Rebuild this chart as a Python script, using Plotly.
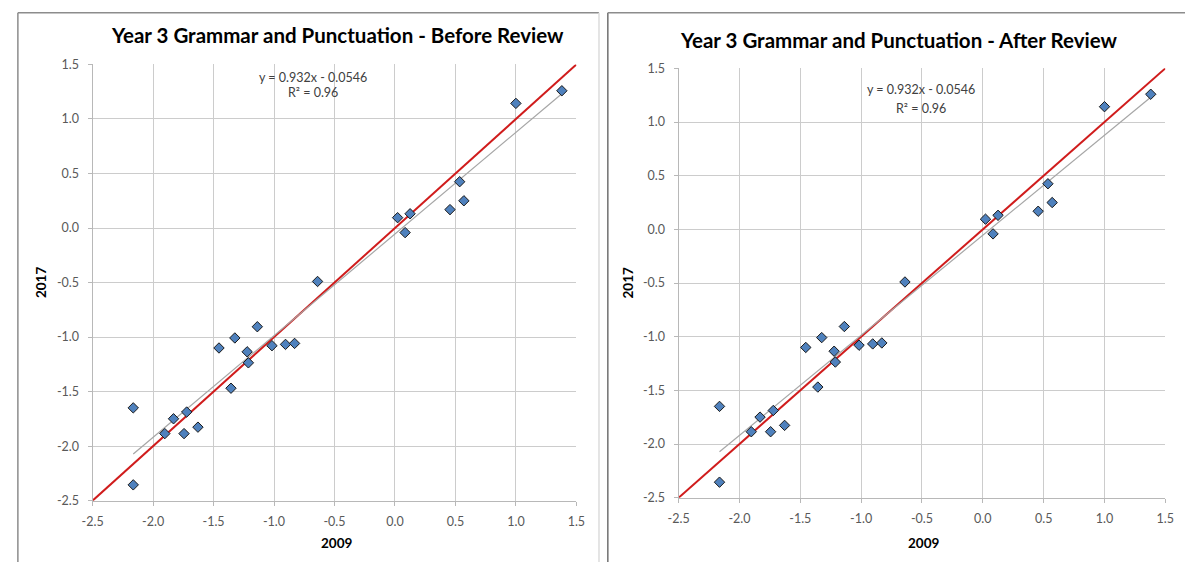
import plotly.graph_objects as go

# ---- data ----
x2009 = [1.38, 1.00, 0.535, 0.57, 0.455, 0.125, 0.022, 0.084, -0.64,
         -1.138, -1.324, -1.455, -1.222, -1.212, -1.017, -0.905, -0.830,
         -1.356, -2.164, -1.831, -1.722, -1.903, -1.744, -1.629, -2.164]
y2017 = [1.259, 1.143, 0.425, 0.250, 0.169, 0.131, 0.095, -0.042, -0.49,
         -0.905, -1.008, -1.100, -1.135, -1.236, -1.079, -1.067, -1.058,
         -1.469, -1.649, -1.749, -1.687, -1.885, -1.885, -1.826, -2.355]
trend_slope = 0.932
trend_intercept = -0.0546
r_squared = 0.96
identity_range = [-2.5, 1.5]
titles = ["Year 3 Grammar and Punctuation - Before Review",
          "Year 3 Grammar and Punctuation - After Review"]
tick_vals = [-2.5, -2.0, -1.5, -1.0, -0.5, 0.0, 0.5, 1.0, 1.5]
tick_text = ["-2.5", "-2.0", "-1.5", "-1.0", "-0.5", "0.0", "0.5", "1.0", "1.5"]
x_title = "2009"
y_title = "2017"

W, H = 1194, 569
FONT = "Lato"


def px(x):
    return x / W


def py(y):
    return 1 - y / H


fig = go.Figure()

panels = [
    dict(xd=(83, 575), yd=(58, 506), sfx="", title_xy=(332, 28), eq_xy=(307, 71, 87),
         ytitle_x=30, xtitle_y=549),
    dict(xd=(679, 1174), yd=(62, 503), sfx="2", title_xy=(903, 33), eq_xy=(925, 84, 103),
         ytitle_x=628, xtitle_y=549),
]

xmin, xmax = min(x2009), max(x2009)
trend_x = [xmin, xmax]
trend_y = [trend_slope * v + trend_intercept for v in trend_x]

annotations = []
for i, p in enumerate(panels):
    xa = "x" + p["sfx"]
    ya = "y" + p["sfx"]
    fig.add_trace(go.Scatter(x=identity_range, y=identity_range, mode="lines",
                             line=dict(color="#d01c1c", width=2), xaxis=xa, yaxis=ya,
                             showlegend=False, hoverinfo="skip"))
    fig.add_trace(go.Scatter(x=trend_x, y=trend_y, mode="lines",
                             line=dict(color="#a6a6a6", width=1.2), xaxis=xa, yaxis=ya,
                             showlegend=False, hoverinfo="skip"))
    fig.add_trace(go.Scatter(x=x2009, y=y2017, mode="markers",
                             marker=dict(symbol="diamond", size=8, color="#4f81bd",
                                         line=dict(color="#1a1a1a", width=1)),
                             xaxis=xa, yaxis=ya, showlegend=False, cliponaxis=False))
    axis_common = dict(range=[-2.5, 1.5], tickvals=tick_vals, ticktext=tick_text,
                       showgrid=True, gridcolor="#cccccc", gridwidth=1.2,
                       zeroline=False, showline=True, linecolor="#b8b8b8", linewidth=1.2,
                       ticks="outside", ticklen=4, tickcolor="#b8b8b8",
                       tickfont=dict(family=FONT, size=12.5, color="#595959"),
                       fixedrange=True)
    fig.layout["xaxis" + p["sfx"]] = dict(axis_common, domain=[px(p["xd"][0]), px(p["xd"][1])],
                                          anchor=ya, ticklabelstandoff=5)
    fig.layout["yaxis" + p["sfx"]] = dict(axis_common, domain=[py(p["yd"][1]), py(p["yd"][0])],
                                          anchor=xa, ticklabelstandoff=6)
    annotations.append(dict(x=px(p["title_xy"][0]), y=py(p["title_xy"][1]), xref="paper",
                            yref="paper", text="<b>" + titles[i] + "</b>", showarrow=False,
                            xanchor="center", yanchor="middle",
                            font=dict(family=FONT, size=20.5, color="#000000")))
    annotations.append(dict(x=px(p["eq_xy"][0]), y=py(p["eq_xy"][1]), xref="paper",
                            yref="paper",
                            text="y = %.3fx - %.4f" % (trend_slope, -trend_intercept),
                            showarrow=False, xanchor="center", yanchor="middle",
                            font=dict(family=FONT, size=12.5, color="#404040")))
    annotations.append(dict(x=px(p["eq_xy"][0]), y=py(p["eq_xy"][2]), xref="paper",
                            yref="paper", text="R² = %.2f" % r_squared,
                            showarrow=False, xanchor="center", yanchor="middle",
                            font=dict(family=FONT, size=12.5, color="#404040")))
    annotations.append(dict(x=px((p["xd"][0] + p["xd"][1]) / 2 + 2), y=py(p["xtitle_y"]),
                            xref="paper", yref="paper", text="<b>" + x_title + "</b>",
                            showarrow=False, xanchor="center", yanchor="middle",
                            font=dict(family=FONT, size=13.5, color="#000000")))
    annotations.append(dict(x=px(p["ytitle_x"]), y=py((p["yd"][0] + p["yd"][1]) / 2),
                            xref="paper", yref="paper", text="<b>" + y_title + "</b>",
                            showarrow=False, xanchor="center", yanchor="middle", textangle=-90,
                            font=dict(family=FONT, size=13.5, color="#000000")))

shapes = [
    dict(type="line", xref="paper", yref="paper", x0=px(7), x1=px(7), y0=py(5), y1=0,
         line=dict(color="#8c8c8c", width=1.5)),
    dict(type="line", xref="paper", yref="paper", x0=px(7), x1=px(598), y0=py(5), y1=py(5),
         line=dict(color="#8c8c8c", width=1.5)),
    dict(type="line", xref="paper", yref="paper", x0=px(598), x1=px(598), y0=py(5), y1=0,
         line=dict(color="#dcdcdc", width=1.5)),
    dict(type="line", xref="paper", yref="paper", x0=px(607), x1=px(607), y0=py(5), y1=0,
         line=dict(color="#707070", width=1.5)),
    dict(type="line", xref="paper", yref="paper", x0=px(607), x1=1, y0=py(5), y1=py(5),
         line=dict(color="#8c8c8c", width=1.5)),
]

fig.update_layout(width=W, height=H, margin=dict(l=0, r=0, t=0, b=0),
                  paper_bgcolor="white", plot_bgcolor="white",
                  annotations=annotations, shapes=shapes, showlegend=False)

fig.write_html("out.html", config={"displayModeBar": False},
               post_script="document.body.style.margin='0';"
                           "document.documentElement.style.overflow='hidden';")
